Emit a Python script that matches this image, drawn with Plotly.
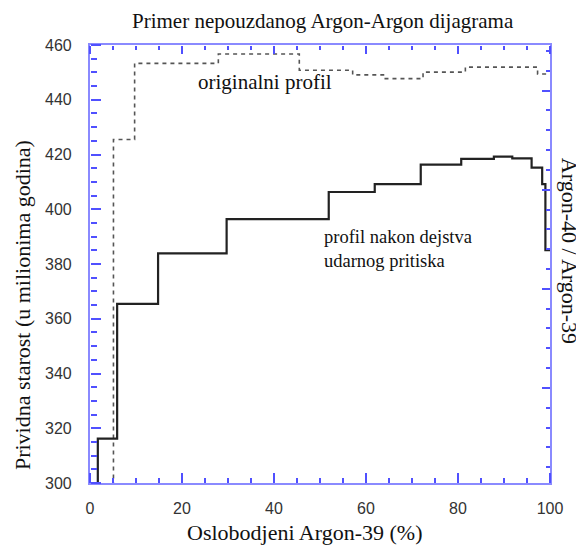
import plotly.graph_objects as go

# ---- data ----
# step profile after shock (solid): edges of release steps (% Ar-39) and apparent ages (Ma)
shock_edges = [1.7, 5.9, 14.8, 29.7, 51.9, 61.9, 71.9, 80.7, 87.8, 91.8, 96.0, 98.3, 99.0, 100.0]
shock_ages = [316.2, 365.4, 383.9, 396.4, 406.3, 409.2, 416.3, 418.4, 419.2, 418.6, 415.2, 409.2, 385.1]
shock_first_below = 290.0  # first step lies below the axis range

# original profile (dashed)
orig_edges = [5.1, 9.7, 27.9, 45.5, 57.1, 63.8, 72.4, 81.6, 97.3, 100.0]
orig_ages = [425.5, 453.3, 456.7, 450.8, 449.1, 447.7, 450.1, 451.9, 449.4]
orig_first_below = 290.0

x_ticks = [0, 20, 40, 60, 80, 100]
y_ticks = [300, 320, 340, 360, 380, 400, 420, 440, 460]

title_text = "Primer nepouzdanog Argon-Argon dijagrama"
x_title = "Oslobodjeni Argon-39 (%)"
y_title = "Prividna starost (u milionima godina)"
y2_title = "Argon-40 / Argon-39"
label_orig = "originalni profil"
label_shock = "profil nakon dejstva<br>udarnog pritiska"


def step_xy(edges, ages, first):
    xs = [edges[0]] + edges[:-1] + [edges[-1]]
    ys = [first] + ages + [ages[-1]]
    return xs, ys


sx, sy = step_xy(shock_edges, shock_ages, shock_first_below)
ox, oy = step_xy(orig_edges, orig_ages, orig_first_below)

SERIF = "Liberation Serif"
SANS = "Liberation Sans"
AXC = "#8a8aff"
TKC = "#5050ff"
XR = [x_ticks[0], x_ticks[-1]]
YR = [y_ticks[0], y_ticks[-1]]
XD = x_ticks[1] - x_ticks[0]
YD = y_ticks[1] - y_ticks[0]

fig = go.Figure()
fig.add_trace(go.Scatter(x=ox, y=oy, mode="lines", line_shape="hv",
                         line=dict(color="#555555", width=1.6, dash="4px,4px"),
                         showlegend=False, hoverinfo="skip"))
fig.add_trace(go.Scatter(x=sx, y=sy, mode="lines", line_shape="hv",
                         line=dict(color="#222222", width=2.2),
                         showlegend=False, hoverinfo="skip"))
# empty traces so the tick-only axes are drawn
for ax_x, ax_y in [("x2", "y"), ("x3", "y"), ("x", "y2"), ("x", "y3")]:
    fig.add_trace(go.Scatter(x=[], y=[], xaxis=ax_x, yaxis=ax_y, showlegend=False, hoverinfo="skip"))

NB = "\u00a0"


def tick_axis(**kw):
    d = dict(ticks="outside", tickwidth=1.5, tickcolor=TKC, showticklabels=False,
             showgrid=False, zeroline=False, automargin=False, showline=False, anchor="free")
    d.update(kw)
    return d


# page body has an 8px margin, so the figure is 8px smaller and margins shifted
fig.update_layout(
    template="none",
    width=576, height=538,
    margin=dict(l=82, r=34, t=37, b=63),
    paper_bgcolor="white", plot_bgcolor="white",
    # label axes with frame lines
    xaxis=dict(range=XR, tickmode="linear", tick0=x_ticks[0], dtick=XD,
               showgrid=False, zeroline=False, automargin=False, ticks="",
               showline=True, linecolor=AXC, linewidth=1.5, mirror=True,
               tickfont=dict(family=SANS, size=16, color="#333333"),
               ticklabelstandoff=10),
    yaxis=dict(range=YR, tickmode="linear", tick0=y_ticks[0], dtick=YD,
               showgrid=False, zeroline=False, automargin=False, ticks="",
               showline=True, linecolor=AXC, linewidth=1.5, mirror=True,
               ticksuffix=NB * 3,
               tickfont=dict(family=SANS, size=16, color="#333333")),
    # tick axes: placed on the frame edge, facing inward
    xaxis2=tick_axis(overlaying="x", side="top", position=0, range=XR, tickmode="linear",
                     tick0=x_ticks[0], dtick=XD, ticklen=10,
                     minor=dict(dtick=5, ticks="outside", ticklen=5, tickcolor=TKC, tickwidth=1.5, showgrid=False)),
    xaxis3=tick_axis(overlaying="x", side="bottom", position=1, range=XR, tickmode="linear",
                     tick0=x_ticks[0], dtick=XD, ticklen=8,
                     minor=dict(dtick=5, ticks="outside", ticklen=4, tickcolor=TKC, tickwidth=1.5, showgrid=False)),
    yaxis3=tick_axis(overlaying="y", side="right", position=0, range=YR, tickmode="linear",
                     tick0=y_ticks[0], dtick=YD, ticklen=10,
                     minor=dict(dtick=5, ticks="outside", ticklen=6, tickcolor=TKC, tickwidth=1.5, showgrid=False)),
    yaxis2=tick_axis(overlaying="y", side="left", position=1, range=[0.04, 4.46], dtick=1, ticklen=8,
                     minor=dict(dtick=0.2, ticks="outside", ticklen=4, tickcolor=TKC, tickwidth=1.5, showgrid=False)),
)

ann = [
    dict(text=title_text, x=0.5065, y=1.0845, yanchor="top", font=dict(family=SERIF, size=21, color="#111")),
    dict(text=x_title, x=0.467, y=-0.1119, font=dict(family=SERIF, size=22, color="#111")),
    dict(text=y_title, x=-0.148, y=0.406, textangle=-90, font=dict(family=SERIF, size=22, color="#111")),
    dict(text=y2_title, x=1.0413, y=0.53, textangle=90, font=dict(family=SERIF, size=22, color="#111")),
    dict(text=label_orig, x=0.38, y=0.9155, font=dict(family=SERIF, size=21, color="#111")),
    dict(text=label_shock, x=0.5065, y=0.534, xanchor="left", align="left",
         font=dict(family=SERIF, size=18.5, color="#111")),
]
for a in ann:
    a.setdefault("xanchor", "center")
    a.setdefault("yanchor", "middle")
    a.update(xref="paper", yref="paper", showarrow=False, borderpad=0)
    fig.add_annotation(**a)

fig.write_html("out.html")
